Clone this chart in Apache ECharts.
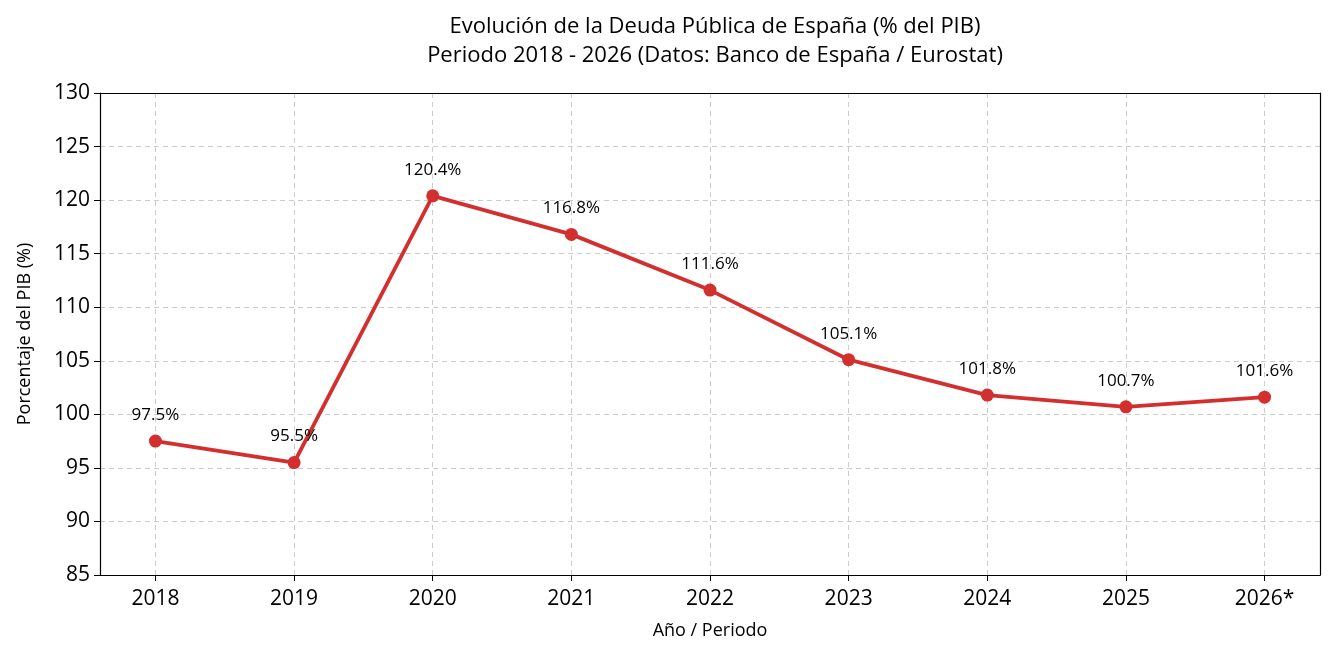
<!DOCTYPE html>
<html>
  <head>
    <meta charset="utf-8" />
    <style>
        html, body {margin: 0; padding: 0; background: #fff;}
        #chart {width: 1335px; height: 656px;}
    </style>
    <script src="https://cdn.jsdelivr.net/npm/echarts@6.0.0/dist/echarts.min.js"></script>
  </head>
  <body>
    <div id="chart"></div>
    <script type="text/javascript">
         var years = ['2018', '2019', '2020', '2021', '2022', '2023', '2024', '2025', '2026*'];
         var debt = [97.5, 95.5, 120.4, 116.8, 111.6, 105.1, 101.8, 100.7, 101.6];
         var yTicks = [85, 90, 95, 100, 105, 110, 115, 120, 125, 130];

         var fontName = 'Open Sans';
         var tickPos = years.map(function (y, i) { return i; });
         var points = debt.map(function (v, i) { return [i, v]; });
         var dashGrid = {show: true, lineStyle: {type: [5, 4], color: '#cccccc', width: 1}};
         var blackLine = {show: true, onZero: false, lineStyle: {color: '#000', width: 1.2}};

         var chart = echarts.init(document.getElementById('chart'));

         var option = {
           animation: false,
           textStyle: {fontFamily: fontName},
           title: {
             text: 'Evolución de la Deuda Pública de España (% del PIB)\nPeriodo 2018 - 2026 (Datos: Banco de España / Eurostat)',
             left: 710,
             textAlign: 'center',
             top: 7,
             textStyle: {fontSize: 22, fontWeight: 'normal', color: '#000', lineHeight: 29, fontFamily: fontName}
           },
           grid: {
             left: 100, right: 15, top: 93, bottom: 81,
             containLabel: false
           },
           xAxis: [{
             type: 'value',
             min: -0.4,
             max: 8.4,
             name: 'Año / Periodo',
             nameLocation: 'middle',
             nameGap: 47,
             nameTextStyle: {fontSize: 18, color: '#000', fontFamily: fontName},
             axisLine: blackLine,
             axisTick: {show: true, customValues: tickPos, length: 6, lineStyle: {color: '#000'}},
             axisLabel: {
               customValues: tickPos,
               fontSize: 21, color: '#000', margin: 14, fontFamily: fontName,
               formatter: function (v) { return years[Math.round(v)]; }
             },
             splitLine: dashGrid
           }, {
             type: 'value',
             position: 'top',
             min: -0.4,
             max: 8.4,
             axisLine: blackLine,
             axisTick: {show: false},
             axisLabel: {show: false},
             splitLine: {show: false}
           }],
           yAxis: [{
             type: 'value',
             min: 85,
             max: 130,
             interval: 5,
             name: 'Porcentaje del PIB (%)',
             nameLocation: 'middle',
             nameGap: 66,
             nameTextStyle: {fontSize: 18, color: '#000', fontFamily: fontName},
             axisLine: blackLine,
             axisTick: {show: true, length: 6, lineStyle: {color: '#000'}},
             axisLabel: {
               fontSize: 21, color: '#000', margin: 10, fontFamily: fontName,
               formatter: function (v) { return yTicks.indexOf(v) >= 0 ? String(v) : ''; }
             },
             splitLine: dashGrid
           }, {
             type: 'value',
             position: 'right',
             min: 85,
             max: 130,
             axisLine: blackLine,
             axisTick: {show: false},
             axisLabel: {show: false},
             splitLine: {show: false}
           }],
           series: [
             {
               name: 'Deuda',
               type: 'line',
               data: points,
               symbol: 'circle',
               symbolSize: 13,
               itemStyle: {color: '#d32f2f'},
               lineStyle: {color: '#d32f2f', width: 3.8},
               label: {
                 show: true,
                 position: 'top',
                 distance: 11,
                 fontSize: 17,
                 color: '#000',
                 fontFamily: fontName,
                 formatter: function (p) { return p.value[1].toFixed(1) + '%'; }
               }
             }
           ]
         };

         chart.setOption(option);
    </script>
  </body>
</html>
